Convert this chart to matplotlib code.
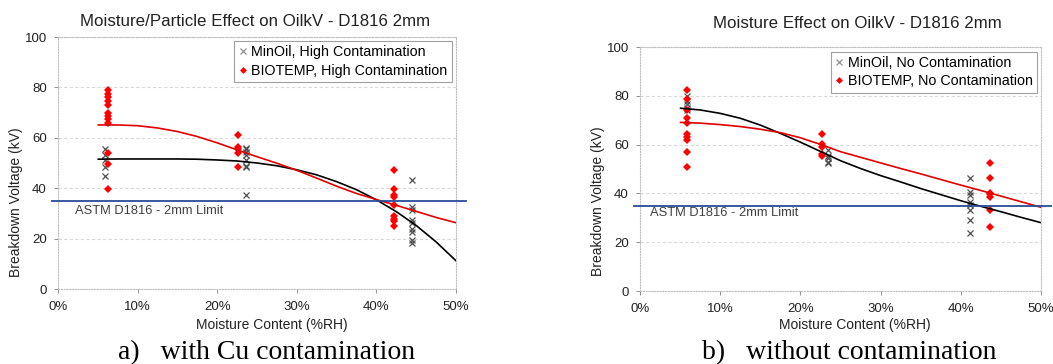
import matplotlib
matplotlib.use("Agg")
import matplotlib.pyplot as plt
from matplotlib.ticker import FuncFormatter
from matplotlib.lines import Line2D

# ---------------- data ----------------
# Panel a) with Cu contamination
a_min_x = [5.9, 23.6, 44.5]
a_min_y = [[55.5, 53.0, 51.0, 48.5, 45.0],
           [56.0, 55.5, 54.5, 53.0, 51.0, 49.0, 48.5, 37.5],
           [43.3, 32.5, 31.3, 27.5, 26.2, 24.0, 22.7, 19.5, 18.3]]
a_bio_x = [6.3, 22.65, 42.2]
a_bio_y = [[79.0, 77.5, 76.0, 74.5, 73.0, 70.0, 68.5, 67.5, 66.0, 54.0, 49.5, 39.5],
           [61.3, 56.5, 55.5, 54.0, 48.5],
           [47.2, 39.6, 37.3, 36.7, 33.4, 28.8, 27.7, 26.8, 25.1]]
trend_x = [5.06, 7.5, 10, 12.5, 15, 17.5, 20, 22.5, 25, 27.5, 30, 32.5, 35,
           37.5, 40, 42.5, 45, 47.5, 50]
a_min_trend = [51.5, 51.6, 51.6, 51.6, 51.6, 51.5, 51.2, 50.8, 50.0, 48.9, 47.3,
               45.3, 42.6, 39.4, 35.4, 30.7, 25.2, 18.7, 11.2]
a_bio_trend = [65.1, 65.1, 64.8, 63.9, 62.5, 60.5, 58.0, 55.2, 52.5, 49.9, 47.1,
               44.0, 40.8, 37.9, 35.5, 33.2, 30.8, 28.4, 26.3]

# Panel b) without contamination
b_min_x = [5.9, 23.5, 41.1]
b_min_y = [[80.0, 78.0, 76.5, 75.0, 74.0],
           [57.7, 55.5, 54.5, 53.0, 52.3],
           [46.2, 40.7, 39.3, 36.6, 35.2, 33.2, 29.1, 23.9]]
b_bio_x = [5.9, 22.7, 43.6]
b_bio_y = [[82.4, 78.6, 74.2, 71.0, 68.9, 64.3, 63.2, 61.9, 56.8, 50.7],
           [64.3, 60.2, 59.1, 56.1, 55.4],
           [52.3, 46.2, 40.3, 39.6, 38.7, 33.2, 26.1]]
b_min_trend = [74.9, 74.2, 72.8, 70.8, 68.0, 64.6, 61.0, 57.2, 53.4, 50.2, 47.3,
               44.7, 42.0, 39.5, 37.0, 34.7, 32.5, 30.2, 28.0]
b_bio_trend = [69.1, 68.8, 68.2, 67.4, 66.3, 64.9, 62.8, 60.1, 57.1, 54.8, 52.5,
               50.2, 48.0, 45.7, 43.4, 41.2, 38.9, 36.6, 34.3]

limit_kv = 35
limit_label = "ASTM D1816 - 2mm Limit"
yticks = [0, 20, 40, 60, 80, 100]
xticks = [0, 10, 20, 30, 40, 50]

titles = ["Moisture/Particle Effect on OilkV - D1816 2mm",
          "Moisture Effect on OilkV - D1816 2mm"]
legend_min = ["MinOil, High Contamination", "MinOil, No Contamination"]
legend_bio = ["BIOTEMP, High Contamination", "BIOTEMP, No Contamination"]
captions = ["a)   with Cu contamination", "b)   without contamination"]
xlabel = "Moisture Content (%RH)"
ylabel = "Breakdown Voltage (kV)"

# ---------------- drawing ----------------
plt.rcParams['font.family'] = ['Liberation Sans', 'DejaVu Sans']

W, H = 1053, 364
fig = plt.figure(figsize=(W/100, H/100), dpi=100)
axes_rects = [[58/W, 1-289/H, 398/W, 252/H],
              [640/W, 1-291/H, 401/W, 244/H]]

panels = [
    (a_min_x, a_min_y, a_bio_x, a_bio_y, a_min_trend, a_bio_trend),
    (b_min_x, b_min_y, b_bio_x, b_bio_y, b_min_trend, b_bio_trend),
]
title_pos = [(255/W, 1-22/H), (857/W, 1-23/H)]
caption_pos = [(267/W, 1-353/H), (849/W, 1-353/H)]
xlabel_pos = [(272/W, 1-325/H), (855/W, 1-325/H)]
ylabel_pos = [(16/W, 1-202/H), (598/W, 1-201/H)]
legend_anchor = [(0.99, 0.984), (0.99, 0.980)]
limit_text_pos = [(2.1, 31.0), (1.25, 32.0)]

RED = '#FF0000'
XCOL = '#505050'
BLUE = '#2A4B9B'

for i, (mx, my, bx, by, mt, bt) in enumerate(panels):
    ax = fig.add_axes(axes_rects[i])
    ax.set_xlim(0, 50)
    ax.set_ylim(0, 100)
    ax.set_xticks(xticks)
    ax.set_yticks(yticks)
    ax.xaxis.set_major_formatter(FuncFormatter(lambda v, p: f"{v:.0f}%"))
    ax.grid(axis='y', color='#D9D9D9', linestyle=(0, (3, 2)), linewidth=0.8)
    ax.set_axisbelow(True)
    for s in ax.spines.values():
        s.set_color('#BFBFBF')
        s.set_linestyle((0, (1, 1.5)))
        s.set_linewidth(0.8)
    ax.tick_params(axis='both', colors='#808080', labelcolor='#222222',
                   labelsize=9.5, length=3, width=0.6)
    ax.tick_params(axis='x', pad=6)
    ax.tick_params(axis='y', pad=5)

    # scatter
    for x, ys in zip(mx, my):
        ax.plot([x]*len(ys), ys, linestyle='none', marker='x', markersize=4.5,
                markeredgewidth=0.9, color=XCOL, zorder=3)
    for x, ys in zip(bx, by):
        ax.plot([x]*len(ys), ys, linestyle='none', marker='D', markersize=4.3,
                color=RED, markeredgewidth=0, zorder=3)

    # trend lines
    ax.plot(trend_x, mt, color='black', linewidth=1.2, zorder=4)
    ax.plot(trend_x, bt, color='#E00000', linewidth=1.2, zorder=4)

    # limit line
    ax.plot([-0.7, 51.3], [limit_kv, limit_kv], color=BLUE, linewidth=1.3,
            clip_on=False, zorder=5)
    ax.text(limit_text_pos[i][0], limit_text_pos[i][1], limit_label,
            fontsize=9.3, color='#404040', va='center', ha='left')

    handles = [Line2D([], [], linestyle='none', marker='x', markersize=4,
                      markeredgewidth=0.9, color='#909090'),
               Line2D([], [], linestyle='none', marker='D', markersize=3.5,
                      color=RED, markeredgewidth=0)]
    leg = ax.legend(handles, [legend_min[i], legend_bio[i]], loc='upper right',
                    bbox_to_anchor=legend_anchor[i], fontsize=10.3,
                    frameon=True, fancybox=False, framealpha=1,
                    edgecolor='#A0A0A0', handlelength=0.6, handletextpad=0.3,
                    borderpad=0.3, labelspacing=0.3, borderaxespad=0)
    leg.get_frame().set_linewidth(0.8)

    fig.text(xlabel_pos[i][0], xlabel_pos[i][1], xlabel, fontsize=10,
             ha='center', va='center', color='#222222')
    fig.text(ylabel_pos[i][0], ylabel_pos[i][1], ylabel, fontsize=10,
             ha='center', va='center', rotation=90, color='#222222')
    fig.text(title_pos[i][0], title_pos[i][1], titles[i], fontsize=12.2,
             ha='center', va='center', color='#222222')
    fig.text(caption_pos[i][0], caption_pos[i][1], captions[i], fontsize=20,
             ha='center', va='center', family='Liberation Serif', color='black')

fig.savefig("out.png", dpi=100)
